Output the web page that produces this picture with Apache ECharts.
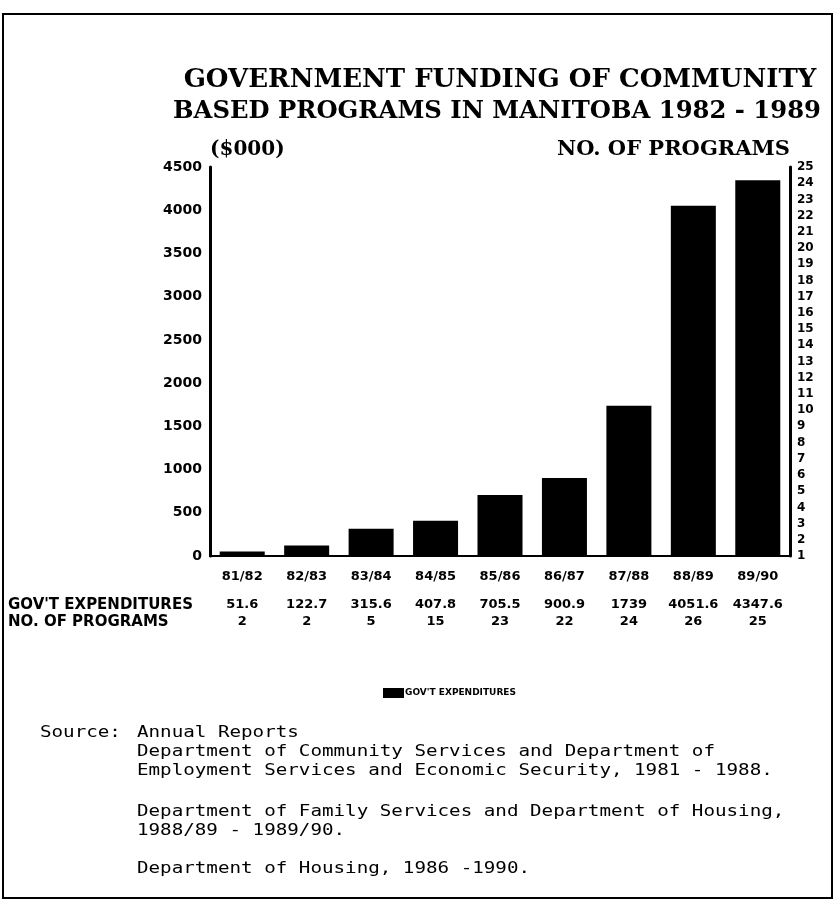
<!DOCTYPE html>
<html><head><meta charset="utf-8">
<script src="https://cdn.jsdelivr.net/npm/echarts@6/dist/echarts.min.js"></script>
<style>html,body{margin:0;padding:0;background:#fff}#c{width:836px;height:902px}</style>
</head><body><div id="c"></div>
<script>
const titleLines = ['GOVERNMENT FUNDING OF COMMUNITY', 'BASED PROGRAMS IN MANITOBA 1982 - 1989'];
const categories = ['81/82','82/83','83/84','84/85','85/86','86/87','87/88','88/89','89/90'];
const expenditures = [51.6, 122.7, 315.6, 407.8, 705.5, 900.9, 1739, 4051.6, 4347.6];
const programs = [2, 2, 5, 15, 23, 22, 24, 26, 25];
const leftAxisRange = [0, 4500, 500];
const rightAxisRange = [1, 25, 1];
const rowHeaders = ["GOV'T EXPENDITURES", 'NO. OF PROGRAMS'];
const sourceLines = [
  'Department of Community Services and Department of',
  'Employment Services and Economic Security, 1981 - 1988.',
  '',
  'Department of Family Services and Department of Housing,',
  '1988/89 - 1989/90.',
  '',
  'Department of Housing, 1986 -1990.'
];

const chart = echarts.init(document.getElementById('c'), null, {renderer: 'canvas'});
const bold = 'DejaVu Sans';
const serif = 'DejaVu Serif';
const mono = 'DejaVu Sans Mono';

const srcY = [752, 771, 790, 812, 831, 850, 869];
const graphics = [
  {type: 'rect', shape: {x: 3, y: 14, width: 829, height: 884}, style: {fill: 'none', stroke: '#000', lineWidth: 2}, silent: true},
  {type: 'text', x: 8, y: 605, style: {text: rowHeaders[0], font: 'bold 15px ' + bold, fill: '#000', textVerticalAlign: 'middle'}},
  {type: 'text', x: 8, y: 622, style: {text: rowHeaders[1], font: 'bold 15px ' + bold, fill: '#000', textVerticalAlign: 'middle'}},
  {type: 'text', x: 40, y: 733, style: {text: 'Source:', font: '16px ' + mono, fill: '#000', textVerticalAlign: 'middle'}, scaleX: 1.2},
  {type: 'text', x: 137, y: 733, style: {text: 'Annual Reports', font: '16px ' + mono, fill: '#000', textVerticalAlign: 'middle'}, scaleX: 1.2}
];
sourceLines.forEach((t, i) => {
  if (!t) return;
  graphics.push({type: 'text', x: 137, y: srcY[i], scaleX: 1.2,
    style: {text: t, font: '16px ' + mono, fill: '#000', textVerticalAlign: 'middle'}});
});

const baseX = {
  type: 'category', data: categories, position: 'bottom',
  axisTick: {show: false}, splitLine: {show: false}
};

chart.setOption({
  animation: false,
  backgroundColor: '#fff',
  title: [
    {
      text: titleLines[0], left: 495, top: 62, textAlign: 'center',
      textStyle: {fontFamily: serif, fontWeight: 'bold', fontSize: 26, color: '#000'}
    },
    {
      text: titleLines[1], left: 492, top: 95, textAlign: 'center',
      textStyle: {fontFamily: serif, fontWeight: 'bold', fontSize: 24.3, color: '#000'}
    }
  ],
  legend: {
    left: 378, top: 683, itemWidth: 21, itemHeight: 10, itemGap: 10,
    icon: 'rect',
    data: ["GOV'T EXPENDITURES"],
    textStyle: {fontFamily: bold, fontWeight: 'bold', fontSize: 9, color: '#000', padding: [0, 0, 0, -4]}
  },
  grid: {left: 210, right: 46, top: 167, bottom: 346, containLabel: false},
  xAxis: [
    Object.assign({}, baseX, {
      axisLine: {show: true, lineStyle: {color: '#000', width: 2}},
      axisLabel: {margin: 14, fontFamily: bold, fontWeight: 'bold', fontSize: 13, color: '#000', interval: 0}
    }),
    Object.assign({}, baseX, {
      offset: 28, axisLine: {show: false},
      axisLabel: {margin: 14, fontFamily: bold, fontWeight: 'bold', fontSize: 13, color: '#000', interval: 0,
        formatter: (v, i) => String(expenditures[i])}
    }),
    Object.assign({}, baseX, {
      offset: 45, axisLine: {show: false},
      axisLabel: {margin: 14, fontFamily: bold, fontWeight: 'bold', fontSize: 13, color: '#000', interval: 0,
        formatter: (v, i) => String(programs[i])}
    })
  ],
  yAxis: [
    {
      type: 'value', position: 'left',
      min: leftAxisRange[0], max: leftAxisRange[1], interval: leftAxisRange[2],
      name: '($000)', nameLocation: 'end', nameGap: 17,
      nameTextStyle: {fontFamily: serif, fontWeight: 'bold', fontSize: 20, color: '#000', align: 'left', verticalAlign: 'middle'},
      axisLine: {show: true, lineStyle: {color: '#000', width: 3}},
      axisTick: {show: false}, splitLine: {show: false},
      axisLabel: {margin: 8, fontFamily: bold, fontWeight: 'bold', fontSize: 14, color: '#000',
        formatter: v => String(v)}
    },
    {
      type: 'value', position: 'right',
      min: rightAxisRange[0], max: rightAxisRange[1], interval: rightAxisRange[2],
      name: 'NO. OF PROGRAMS', nameLocation: 'end', nameGap: 17,
      nameTextStyle: {fontFamily: serif, fontWeight: 'bold', fontSize: 21, color: '#000', align: 'right', verticalAlign: 'middle'},
      axisLine: {show: true, lineStyle: {color: '#000', width: 3}},
      axisTick: {show: false}, splitLine: {show: false},
      axisLabel: {margin: 7, fontFamily: bold, fontWeight: 'bold', fontSize: 12, color: '#000',
        formatter: v => String(v)}
    }
  ],
  series: [
    {
      name: "GOV'T EXPENDITURES", type: 'bar', xAxisIndex: 0, yAxisIndex: 0,
      data: expenditures, barWidth: 45,
      itemStyle: {color: '#000'}
    }
  ],
  graphic: graphics
});
</script></body></html>
